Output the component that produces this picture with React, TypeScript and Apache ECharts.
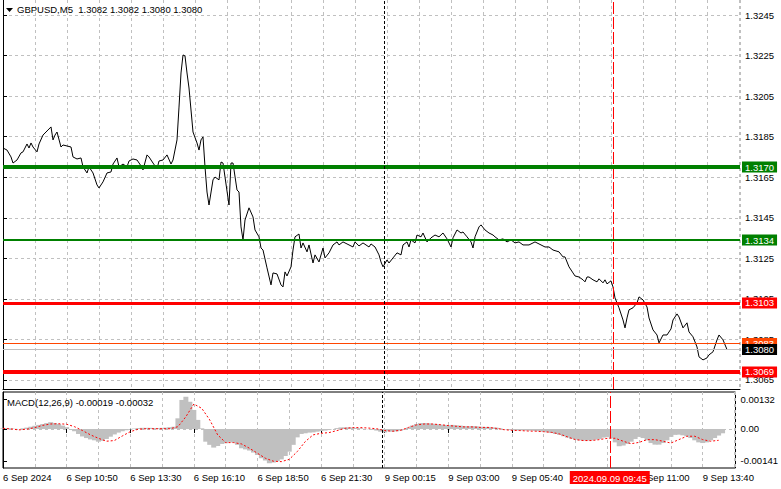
import React, { useEffect, useRef } from 'react';
import * as echarts from 'echarts';

// ---------- data ----------
const symbolName = 'GBPUSD,M5';
const lastOHLC = [1.3082, 1.3082, 1.308, 1.308];
const macdParams = [12, 26, 9];
const macdLast = [-0.00019, -0.00032];

// one label every 32 bars (M5 bars), starting at bar 0
const timeLabels = [
  '6 Sep 2024', '6 Sep 10:50', '6 Sep 13:30', '6 Sep 16:10', '6 Sep 18:50', '6 Sep 21:30',
  '9 Sep 00:15', '9 Sep 03:00', '9 Sep 05:40', '9 Sep 08:20', '9 Sep 11:00', '9 Sep 13:40',
];
const priceTicks = [1.3065, 1.3085, 1.3105, 1.3125, 1.3145, 1.3165, 1.3185, 1.3205, 1.3225, 1.3245];
const macdTicks = [0.00132, 0, -0.00141];

// horizontal levels drawn on the chart
const levelValues = [1.317, 1.3134, 1.3103, 1.3083, 1.308, 1.3069];

// vertical markers (bar index)
const daySeparatorBar = 190.5;
const markedBar = 305;
const markedLabel = '2024.09.09 09:45';

// [bar index, close]
const closeByBar: [number, number][] = [
  [0, 1.31794], [2, 1.31784], [4, 1.3175], [5, 1.3172], [7, 1.31735], [9, 1.3177], [10, 1.31775],
  [12, 1.31814], [13, 1.31794], [14, 1.31819], [15, 1.31799], [17, 1.31775], [18, 1.31814],
  [20, 1.31858], [22, 1.31878], [24, 1.31898], [25, 1.31834], [26, 1.31858], [27, 1.31873],
  [29, 1.31799], [30, 1.31809], [32, 1.31804], [34, 1.31799], [35, 1.3175], [37, 1.3174],
  [39, 1.31745], [40, 1.31701], [42, 1.31671], [43, 1.31701], [45, 1.31671], [47, 1.31612],
  [48, 1.31597], [50, 1.31627], [52, 1.31671], [54, 1.31676], [55, 1.31715], [57, 1.31745],
  [58, 1.31701], [60, 1.31715], [62, 1.31701], [63, 1.3173], [65, 1.3174], [67, 1.31735],
  [69, 1.31706], [70, 1.31686], [72, 1.3176], [73, 1.3175], [75, 1.3172], [77, 1.31691],
  [78, 1.3173], [80, 1.31735], [82, 1.3176], [84, 1.31715], [85, 1.31735], [87, 1.31834],
  [88, 1.31996], [89, 1.32164], [90, 1.32253], [91, 1.32248], [92, 1.32164], [93, 1.3209],
  [95, 1.31873], [97, 1.31819], [98, 1.31784], [99, 1.31834], [100, 1.31849], [101, 1.31701],
  [102, 1.31577], [103, 1.31513], [105, 1.31637], [106, 1.31651], [108, 1.31637], [109, 1.31725],
  [110, 1.3172], [111, 1.31651], [113, 1.31513], [114, 1.3172], [115, 1.3172], [117, 1.31587],
  [118, 1.31577], [119, 1.31405], [120, 1.31341], [121, 1.31439], [123, 1.31499], [125, 1.31454],
  [126, 1.3139], [128, 1.31356], [129, 1.31301], [130, 1.31291], [132, 1.31203], [134, 1.31119],
  [135, 1.31178], [137, 1.31173], [139, 1.31119], [140, 1.31109], [141, 1.31183], [142, 1.31163],
  [144, 1.31208], [145, 1.31291], [146, 1.31356], [148, 1.3137], [149, 1.31301], [150, 1.31326],
  [152, 1.31282], [153, 1.31316], [155, 1.31227], [156, 1.31267], [158, 1.31232], [160, 1.31301],
  [161, 1.31252], [163, 1.31277], [165, 1.31316], [167, 1.31331], [168, 1.31316], [170, 1.31331],
  [173, 1.31316], [175, 1.31306], [176, 1.31331], [178, 1.31311], [180, 1.31326], [183, 1.31306],
  [184, 1.31321], [186, 1.31306], [188, 1.31267], [189, 1.31232], [190, 1.31208], [192, 1.31242],
  [193, 1.31227], [195, 1.31252], [197, 1.31277], [199, 1.31267], [200, 1.31316], [202, 1.31331],
  [203, 1.31306], [204, 1.31341], [206, 1.31326], [207, 1.31365], [209, 1.31356], [210, 1.31375],
  [212, 1.31331], [214, 1.31351], [216, 1.31365], [218, 1.31356], [220, 1.31375], [222, 1.31346],
  [224, 1.31306], [225, 1.31351], [227, 1.3139], [229, 1.31375], [230, 1.3138], [232, 1.31356],
  [234, 1.31331], [235, 1.31301], [236, 1.31356], [238, 1.31405], [239, 1.31415], [241, 1.3139],
  [243, 1.31375], [245, 1.31365], [246, 1.31356], [248, 1.31341], [250, 1.31346], [252, 1.31331],
  [254, 1.31341], [256, 1.31326], [258, 1.31331], [260, 1.31316], [263, 1.31316], [265, 1.31326],
  [266, 1.31331], [269, 1.31316], [271, 1.31306], [273, 1.31306], [275, 1.31291], [278, 1.31282],
  [280, 1.31257], [281, 1.31257], [283, 1.31208], [285, 1.31178], [286, 1.31163], [288, 1.31158],
  [290, 1.31144], [291, 1.31134], [292, 1.31158], [293, 1.31158], [295, 1.31144], [297, 1.31134],
  [298, 1.31149], [300, 1.31129], [301, 1.31144], [302, 1.31124], [304, 1.31139], [305, 1.31109],
  [306, 1.31055], [307, 1.3103], [308, 1.31006], [310, 1.30946], [311, 1.30907], [312, 1.30956],
  [313, 1.30996], [315, 1.31006], [317, 1.3103], [318, 1.3106], [320, 1.31045], [322, 1.3101],
  [323, 1.30956], [325, 1.30897], [327, 1.30872], [328, 1.30833], [330, 1.30872], [332, 1.30872],
  [334, 1.30902], [335, 1.30946], [337, 1.30976], [338, 1.30961], [340, 1.30907], [342, 1.30932],
  [343, 1.30887], [345, 1.30863], [347, 1.30813], [348, 1.30764], [350, 1.30749], [352, 1.30759],
  [353, 1.30774], [355, 1.30789], [357, 1.30848], [358, 1.30872], [360, 1.30848], [362, 1.308],
];

// MACD main (histogram), one value every 2 bars from bar 0
const histStep = 2;
const macdHist = [
  0.00003, 0.00004, 0.00003, 0.00001, 0, 0.00003, 0.00006, 0.0001, 0.00014, 0.00018,
  0.00022, 0.00026, 0.0003, 0.00026, 0.00022, 0.00015, 0.00008, 0, -0.0001, -0.00022,
  -0.00033, -0.0004, -0.00046, -0.0005, -0.00056, -0.00052, -0.00044, -0.00034, -0.00024, -0.00016,
  -0.0001, -0.00006, -0.00002, 0.00002, 0.00004, 0.00005, 0.00005, 0.00005, 0.00004, 0.00004,
  0.00005, 0.00006, 0.00008, 0.0001, 0.00047, 0.00128, 0.00142, 0.0012, 0.00084, 0.0004,
  0.00003, -0.00056, -0.0007, -0.00082, -0.00075, -0.00066, -0.00063, -0.00057, -0.0006, -0.0007,
  -0.00085, -0.0009, -0.00095, -0.00104, -0.00115, -0.00129, -0.00139, -0.00151, -0.00148, -0.00142,
  -0.00134, -0.00119, -0.001, -0.0007, -0.00037, -0.00022, -0.00019, -0.00016, -0.00015, -0.00012,
  -0.00009, -0.00007, -0.00004, 0, 0.00004, 0.00007, 0.00007, 0.00007, 0.00006, 0.00004,
  0.00003, 0, -0.00001, -0.00004, -0.00007, -0.00012, -0.00015,
  -0.0001, -0.00012, -0.0001, -0.00007, -0.00003, 0.00006, 0.00015, 0.00022, 0.00026, 0.00026,
  0.00025, 0.00023, 0.00021, 0.00019, 0.00018, 0.00016, 0.00018, 0.00016, 0.00015, 0.00013,
  0.00012, 0.00013, 0.00012, 0.0001, 0.00009, 0.00009, 0.00007, 0.00006, 0.00003, 0,
  -0.00003, -0.00004, -0.00006, -0.00006, -0.00006, -0.00007, -0.00007, -0.00009, -0.0001, -0.00012,
  -0.00015, -0.00018, -0.00022, -0.00026, -0.00032, -0.00038, -0.00043, -0.00047, -0.0005, -0.00051,
  -0.00051, -0.0005, -0.00047, -0.00044, -0.00038, -0.00035, -0.00041, -0.00059, -0.00076, -0.00073,
  -0.00066, -0.00056, -0.00044, -0.00035, -0.0004, -0.0005, -0.00062, -0.00069, -0.00069, -0.00062,
  -0.0005, -0.00035, -0.00026, -0.00025, -0.00028, -0.00032, -0.0004, -0.0005, -0.00059, -0.00062,
  -0.00059, -0.0005, -0.0004, -0.00029, -0.00019,
];

// MACD signal line, one value every 4 bars from bar 0
const signalStep = 4;
const macdSignal = [
  0.00003, 0, -0.00004, -0.00001, 0.00006, 0.00016, 0.00022, 0.00023, 0.00021, 0.0001,
  -0.00007, -0.00026, -0.00041, -0.00054, -0.00051, -0.00031, -0.00012, -0.00001, 0.00001, 0.00001,
  0.00001, 0.00001, 0.0001, 0.00054, 0.0011, 0.00091, 0.0004, -0.00026, -0.0006, -0.0006,
  -0.00066, -0.00085, -0.00107, -0.00129, -0.00142, -0.00144, -0.00134, -0.001, -0.00056, -0.00026,
  -0.00019, -0.00016, -0.00007, 0.00003, 0.00006, 0.00006, 0.00004, 0.00001, -0.00007,
  -0.0001, -0.00006, 0.00007, 0.00018, 0.00022, 0.00022, 0.00019, 0.00015, 0.00012, 0.00009,
  0.00009, 0.00007, 0.00007, 0.00003, -0.00003, -0.00006, -0.00007, -0.00009, -0.0001, -0.00012,
  -0.00015, -0.00022, -0.00035, -0.00047, -0.00051, -0.00051, -0.00047, -0.00041, -0.00041, -0.00054,
  -0.00065, -0.00059, -0.00047, -0.00047, -0.00054, -0.00062, -0.00047, -0.00032, -0.00032, -0.00047,
  -0.00054, -0.0005,
];

// ---------- styling ----------
const FONT = '"Liberation Sans", Arial, sans-serif';
const FS = 9.5;
const GRID_LINE = { color: '#c0c0c0', type: [3, 3] as number[], width: 1 };
const MARK_RED = { color: '#ff0000', width: 1, type: [12, 3] as number[] };
const LEVEL_STYLE: Record<string, { color: string; width: number; bg: string }> = {
  '1.3170': { color: '#008000', width: 4, bg: '#008000' },
  '1.3134': { color: '#008000', width: 2, bg: '#008000' },
  '1.3103': { color: '#ff0000', width: 3, bg: '#ff0000' },
  '1.3083': { color: '#ff4500', width: 1, bg: '#ff4500' },
  '1.3080': { color: '#c0c0c0', width: 1, bg: '#000000' },
  '1.3069': { color: '#ff0000', width: 4, bg: '#ff0000' },
};

const X_MAX = 368.5;
const PX_SHIFT = 0.25; // half a pixel in bar units, keeps 1px vertical strokes crisp
const PRICE_MIN = 1.306056;
const PRICE_MAX = 1.32524;
const MACD_MIN = -0.00172;
const MACD_MAX = 0.00163;

function buildOption() {
  const levelLines = levelValues.map((v) => {
    const s = LEVEL_STYLE[v.toFixed(4)];
    return {
      yAxis: v,
      lineStyle: { color: s.color, width: s.width, type: 'solid' },
      label: {
        show: true,
        position: 'end',
        distance: 2,
        formatter: v.toFixed(4),
        backgroundColor: s.bg,
        color: '#ffffff',
        fontFamily: FONT,
        fontSize: FS,
        lineHeight: 10,
        padding: [1, 3, 0, 3],
      },
    };
  });

  const separatorLine = {
    xAxis: daySeparatorBar + PX_SHIFT,
    lineStyle: { color: '#000', width: 1, type: [3, 2] },
    label: { show: false },
  };

  // MT4 draws the line chart's first segment up from the bottom edge
  const firstDrop = [
    {
      coord: [closeByBar[0][0] + PX_SHIFT, PRICE_MIN],
      lineStyle: { color: '#000', width: 1, type: 'solid' },
      label: { show: false },
    },
    { coord: [closeByBar[0][0] + PX_SHIFT, closeByBar[0][1]] },
  ];

  const gridXAxis = (gi: number, withLine: boolean) => ({
    gridIndex: gi,
    type: 'value',
    min: 0,
    max: X_MAX,
    interval: 16,
    position: 'bottom',
    axisLine: { show: withLine, onZero: false, lineStyle: { color: '#000', width: 1 } },
    axisTick: { show: false },
    axisLabel: { show: false },
    splitLine: { show: true, lineStyle: GRID_LINE },
  });

  return {
    animation: false,
    backgroundColor: '#ffffff',
    textStyle: { fontFamily: FONT },
    title: [
      {
        text: `${symbolName}  ${lastOHLC.map((v) => v.toFixed(4)).join(' ')}`,
        left: 17,
        top: 4,
        padding: 0,
        textStyle: { fontFamily: FONT, fontSize: FS, fontWeight: 'normal', color: '#000' },
      },
      {
        text: `MACD(${macdParams.join(',')}) ${macdLast.map((v) => v.toFixed(5)).join(' ')}`,
        left: 7,
        top: 397,
        padding: 0,
        textStyle: { fontFamily: FONT, fontSize: FS, fontWeight: 'normal', color: '#000' },
      },
    ],
    graphic: [
      { type: 'polygon', shape: { points: [[6, 8], [13, 8], [9.5, 12]] }, style: { fill: '#000' } },
    ],
    grid: [
      { left: 3, top: 0, width: 737, height: 389, show: false },
      { left: 3, top: 392, width: 737, height: 76, show: true, borderColor: '#000', borderWidth: 1 },
    ],
    xAxis: [
      gridXAxis(0, true),
      gridXAxis(1, false),
      {
        gridIndex: 1,
        type: 'value',
        min: 0,
        max: X_MAX,
        interval: 32,
        position: 'bottom',
        axisLine: { show: false },
        axisTick: { show: true, length: 4, lineStyle: { color: '#000' } },
        axisLabel: {
          show: true,
          align: 'left',
          margin: 4,
          fontFamily: FONT,
          fontSize: FS,
          color: '#000',
          showMaxLabel: false,
          formatter: (v: number) => {
            if (v % 32 !== 0) return '';
            // the label lying fully under the marked-time box is not shown
            if (v >= markedBar - 20 && v <= markedBar) return '';
            return timeLabels[v / 32] ?? '';
          },
        },
        splitLine: { show: false },
      },
    ],
    yAxis: [
      {
        gridIndex: 0,
        type: 'value',
        position: 'right',
        min: PRICE_MIN,
        max: PRICE_MAX,
        axisLine: { show: true, lineStyle: { color: '#000' } },
        axisTick: { show: true, length: 4, customValues: priceTicks, lineStyle: { color: '#000' } },
        axisLabel: {
          customValues: priceTicks,
          formatter: (v: number) => v.toFixed(4),
          margin: 5,
          fontFamily: FONT,
          fontSize: FS,
          color: '#000',
        },
        splitLine: { show: true, lineStyle: GRID_LINE },
      },
      {
        gridIndex: 1,
        type: 'value',
        position: 'right',
        min: MACD_MIN,
        max: MACD_MAX,
        axisLine: { show: true, lineStyle: { color: '#000' } },
        axisTick: { show: true, length: 4, customValues: macdTicks, lineStyle: { color: '#000' } },
        axisLabel: {
          customValues: macdTicks,
          formatter: (v: number) => (v === 0 ? '0.00' : v.toFixed(5)),
          margin: 5,
          fontFamily: FONT,
          fontSize: FS,
          color: '#000',
        },
        splitLine: { show: false },
      },
      {
        gridIndex: 1,
        type: 'value',
        position: 'left',
        min: MACD_MIN,
        max: MACD_MAX,
        axisLine: { show: false },
        axisTick: { show: false, customValues: [0] },
        axisLabel: { show: false, customValues: [0] },
        splitLine: { show: true, lineStyle: GRID_LINE },
      },
    ],
    series: [
      {
        name: 'close',
        type: 'line',
        xAxisIndex: 0,
        yAxisIndex: 0,
        data: closeByBar,
        showSymbol: false,
        symbol: 'none',
        lineStyle: { color: '#000', width: 1 },
        z: 3,
        markLine: {
          silent: true,
          precision: 6,
          symbol: ['none', 'none'],
          animation: false,
          data: [firstDrop, ...levelLines, separatorLine],
        },
      },
      {
        name: 'marked time',
        type: 'line',
        xAxisIndex: 0,
        yAxisIndex: 0,
        data: [
          [markedBar + PX_SHIFT, PRICE_MIN],
          [markedBar + PX_SHIFT, PRICE_MAX],
        ],
        showSymbol: false,
        symbol: 'none',
        silent: true,
        lineStyle: MARK_RED,
        z: 4,
      },
      {
        name: 'MACD',
        type: 'bar',
        xAxisIndex: 1,
        yAxisIndex: 1,
        data: macdHist.map((v, i) => [i * histStep, v]),
        barWidth: 5,
        itemStyle: { color: '#c0c0c0' },
        z: 2,
        markLine: {
          silent: true,
          precision: 6,
          symbol: ['none', 'none'],
          animation: false,
          data: [
            separatorLine,
            {
              xAxis: markedBar + PX_SHIFT,
              lineStyle: MARK_RED,
              label: {
                show: true,
                position: 'start',
                distance: 3,
                formatter: markedLabel,
                backgroundColor: '#ff0000',
                color: '#ffffff',
                fontFamily: FONT,
                fontSize: FS,
                padding: [2, 3, 1, 3],
              },
            },
          ],
        },
      },
      {
        name: 'Signal',
        type: 'line',
        xAxisIndex: 1,
        yAxisIndex: 1,
        data: macdSignal.map((v, i) => [i * signalStep, v]),
        showSymbol: false,
        symbol: 'none',
        lineStyle: { color: '#ff0000', width: 1, type: [2, 2] },
        z: 3,
      },
    ],
  };
}

export default function App() {
  const ref = useRef<HTMLDivElement>(null);
  useEffect(() => {
    if (!ref.current) return;
    const chart = echarts.init(ref.current, undefined, { renderer: 'svg' });
    chart.setOption(buildOption() as any);
    return () => chart.dispose();
  }, []);
  return (
    <div
      ref={ref}
      style={{ position: 'absolute', left: 0, top: 0, width: 781, height: 489, background: '#fff' }}
    />
  );
}
